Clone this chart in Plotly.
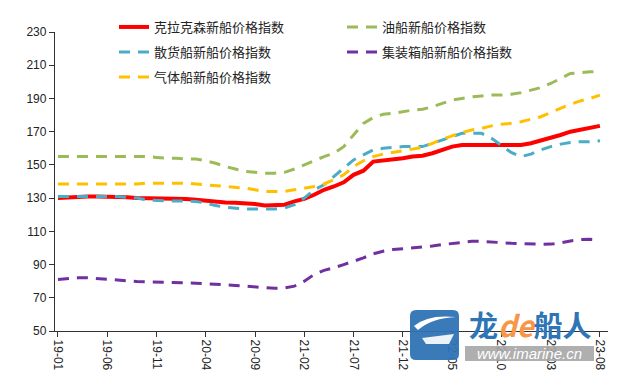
import plotly.graph_objects as go

# ---- data ----
months = [f"{y:02d}-{m:02d}" for y in range(19, 24) for m in range(1, 13)][:56]

clarksons = [130, 130.5, 131, 131, 131, 131, 130.5, 130.5, 130, 130,
             130, 130, 130, 129.5, 129, 128.5, 127.5, 127.3, 127.2, 127,
             126.5, 125.5, 125.5, 126, 128, 129.5, 132, 135, 137, 139.5,
             144, 146.5, 152, 152.5, 153, 154, 155, 155.5, 157, 159,
             161, 162, 162, 162.5, 162, 162, 162, 162, 163, 164.5,
             166, 168, 170, 171, 172.5, 173.5]
tanker = [155, 155, 155, 155, 155, 155, 155, 155, 155, 155,
          154.5, 154, 154, 153.5, 153.5, 152.5, 151, 149, 147.5, 146,
          145.5, 145, 145, 145.5, 147.5, 150, 152.5, 155, 157, 161,
          168, 175, 178.5, 180.5, 181, 182, 183, 183.5, 185, 187,
          189, 190, 191, 191.5, 192, 192, 192.5, 193.5, 195, 196.5,
          199, 202, 205, 205.5, 206, 206]
bulk = [131, 131, 131, 131, 131, 131, 131, 130.5, 130, 129,
        128.5, 128.3, 128.3, 128.3, 128, 127, 125.5, 124.5, 124, 123.5,
        123.5, 123.5, 123.5, 124, 126, 130, 135, 138, 143, 148,
        153, 156, 159, 160, 160.5, 161, 161, 161, 163, 165,
        167, 169, 169, 169, 166, 162, 157.5, 155, 156.5, 159,
        161, 162.5, 163.5, 164, 164, 164.5]
container = [81, 81.5, 82, 82, 81.5, 81, 80.5, 80, 79.8, 79.6,
             79.5, 79.3, 79.1, 79, 78.8, 78.5, 78, 77.7, 77.4, 77,
             76.5, 75.8, 75.7, 76, 77, 80, 84, 86.5, 88, 90,
             92, 94, 96.5, 98, 99, 99.5, 100, 100.5, 101.2, 102,
             102.8, 103.5, 104, 104, 103.8, 103.2, 102.8, 102.5, 102.2, 102.2,
             102.3, 103, 104.2, 105, 105.2, 104.8]
gas = [138.5, 138.5, 138.5, 138.5, 138.5, 138.5, 138.5, 138.5, 138.5, 139,
       139, 139, 139, 139, 138.5, 138, 137.5, 137, 136.5, 136,
       135, 134, 134, 134, 135, 136, 137, 138.5, 141, 144,
       149, 152.5, 155, 156.5, 157.5, 158.5, 159.5, 160.5, 163, 165.5,
       167.5, 169.5, 171, 172, 173.5, 174.5, 175, 176, 177.5, 179,
       181.5, 184, 186.5, 188.5, 190, 192]

series_names = ["克拉克森新船价格指数", "油船新船价格指数", "散货船新船价格指数",
                "集装箱船新船价格指数", "气体船新船价格指数"]
series_values = [clarksons, tanker, bulk, container, gas]
colors = ["#FF0000", "#9BBB59", "#4BACC6", "#7030A0", "#FFC000"]
tick_labels = months[::5]

W, H = 618, 376
ML, MR, MT, MB = 47, 18, 24, 53
PW, PH = W - ML - MR, H - MT - MB

x_idx = list(range(len(months)))


def px(x):
    return (x - ML) / PW


def py(y):
    return (H - MB - y) / PH


fig = go.Figure()
legend_pos = {  # legend id: (left px, top px)
    "legend": (106, 4),
    "legend2": (334, 4),
    "legend3": (106, 29),
    "legend4": (334, 29),
    "legend5": (106, 54),
}
legend_ids = ["legend", "legend2", "legend3", "legend4", "legend5"]
for k, (name, vals, col) in enumerate(zip(series_names, series_values, colors)):
    if k == 0:
        line = dict(color=col, width=4)
    else:
        line = dict(color=col, width=3, dash="11px,8px")
    fig.add_trace(go.Scatter(x=x_idx, y=vals, mode="lines", name=name, line=line,
                             legend=legend_ids[k], hoverinfo="skip"))

font_main = "Liberation Sans, Arial, Noto Sans CJK SC, sans-serif"
leg_font = dict(family="Noto Sans CJK SC, sans-serif", size=13, color="#222")
legend_layouts = {}
for lid, (lx, ly) in legend_pos.items():
    legend_layouts[lid] = dict(xref="paper", yref="paper",
                               x=px(lx), y=py(ly), xanchor="left", yanchor="top",
                               bgcolor="rgba(0,0,0,0)", borderwidth=0, font=leg_font,
                               itemclick=False, itemdoubleclick=False)

fig.update_layout(
    width=W, height=H,
    margin=dict(l=ML, r=MR, t=MT, b=MB, autoexpand=False),
    paper_bgcolor="white", plot_bgcolor="white",
    font=dict(family=font_main, size=12, color="#222"),
    showlegend=True,
    **legend_layouts,
)

fig.update_xaxes(
    range=[-0.3, 55.82],
    tickmode="array", tickvals=x_idx[::5], ticktext=tick_labels,
    tickangle=90, ticks="outside", ticklen=5, tickcolor="#333",
    showline=True, linecolor="#333", linewidth=1.3,
    showgrid=False, zeroline=False, automargin=False,
    tickfont=dict(size=12, color="#222"),
)
fig.update_yaxes(
    range=[50, 230], dtick=20, tick0=50,
    ticks="outside", ticklen=5, tickcolor="#333",
    showline=True, linecolor="#333", linewidth=1.3,
    showgrid=False, zeroline=False, automargin=False,
    tickfont=dict(size=12, color="#222"),
)

# ---- watermark (approximate) ----
x0, x1, y0, y1, r = 402, 451, 302, 352, 6
path = (f"M {px(x0+r)},{py(y0)} L {px(x1-r)},{py(y0)} Q {px(x1)},{py(y0)} {px(x1)},{py(y0+r)} "
        f"L {px(x1)},{py(y1-r)} Q {px(x1)},{py(y1)} {px(x1-r)},{py(y1)} "
        f"L {px(x0+r)},{py(y1)} Q {px(x0)},{py(y1)} {px(x0)},{py(y1-r)} "
        f"L {px(x0)},{py(y0+r)} Q {px(x0)},{py(y0)} {px(x0+r)},{py(y0)} Z")
fig.add_shape(type="path", path=path, xref="paper", yref="paper",
              fillcolor="#2F73B5", line=dict(width=0), opacity=0.95, layer="above")
swoosh = (f"M {px(406)},{py(318)} Q {px(420)},{py(306)} {px(448)},{py(309)} "
          f"Q {px(424)},{py(310)} {px(410)},{py(322)} Z")
fig.add_shape(type="path", path=swoosh, xref="paper", yref="paper",
              fillcolor="white", line=dict(width=0), layer="above")
ship = (f"M {px(414)},{py(330)} L {px(446)},{py(326)} L {px(441)},{py(336)} L {px(418)},{py(336)} Z")
fig.add_shape(type="path", path=ship, xref="paper", yref="paper",
              fillcolor="white", line=dict(width=0), opacity=0.9, layer="above")
fig.add_shape(type="rect", xref="paper", yref="paper",
              x0=px(457), x1=px(586), y0=py(353), y1=py(338),
              fillcolor="#A6A6A6", line=dict(width=0), opacity=0.9, layer="above")
fig.add_annotation(xref="paper", yref="paper", x=px(522), y=py(316),
                   text="<b><span style='color:#2E75B6'>龙</span>"
                        "<i><span style='color:#F79646'>de</span></i>"
                        "<span style='color:#2E75B6'>船人</span></b>",
                   showarrow=False, xanchor="center", yanchor="middle",
                   font=dict(family="Noto Sans CJK SC, sans-serif", size=29))
fig.add_annotation(xref="paper", yref="paper", x=px(521), y=py(345.5),
                   text="<i>www.imarine.cn</i>", showarrow=False,
                   xanchor="center", yanchor="middle",
                   font=dict(family="Liberation Sans, Arial, sans-serif", size=15, color="white"))

fig.write_html("out.html")
